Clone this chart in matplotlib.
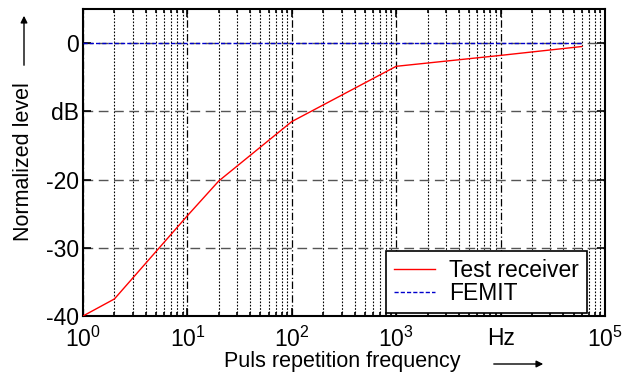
import numpy as np
import matplotlib
matplotlib.use("Agg")
import matplotlib.pyplot as plt
from matplotlib.ticker import FixedLocator, FixedFormatter, LogLocator, NullFormatter

plt.rcParams['font.family'] = ['Liberation Sans', 'DejaVu Sans']
plt.rcParams['mathtext.fontset'] = 'custom'
plt.rcParams['mathtext.rm'] = 'Liberation Sans'
plt.rcParams['mathtext.it'] = 'Liberation Sans'

# ── Data ──
freq_receiver = [1, 2, 10, 20, 100, 1000, 10000, 60000]
level_receiver = [-40, -37.5, -25.3, -20.2, -11.5, -3.4, -1.8, -0.5]
freq_femit = [1, 60000]
level_femit = [0, 0]

x_tick_pos = [1, 10, 100, 1000, 10000, 100000]
x_tick_lab = ['$\\mathrm{10^0}$', '$\\mathrm{10^1}$', '$\\mathrm{10^2}$',
              '$\\mathrm{10^3}$', 'Hz', '$\\mathrm{10^5}$']
y_tick_pos = [-40, -30, -20, -10, 0]
y_tick_lab = ['-40', '-30', '-20', 'dB', '0']

fig = plt.figure(figsize=(6.35, 3.76), dpi=100)
ax = fig.add_axes([83 / 635, 1 - 316 / 376, 522 / 635, 307 / 376])

ax.plot(freq_receiver, level_receiver, color='#ff0000', lw=1.0, label='Test receiver', zorder=3)
ax.plot(freq_femit, level_femit, color='#0000cc', lw=1.0, ls=(0, (3, 1.5)), label='FEMIT', zorder=3)

ax.set_xscale('log')
ax.set_xlim(1, 1e5)
ax.set_ylim(-40, 5)

ax.xaxis.set_major_locator(FixedLocator(x_tick_pos))
ax.xaxis.set_major_formatter(FixedFormatter(x_tick_lab))
ax.xaxis.set_minor_locator(LogLocator(base=10, subs=np.arange(2, 10), numticks=20))
ax.xaxis.set_minor_formatter(NullFormatter())
ax.yaxis.set_major_locator(FixedLocator(y_tick_pos))
ax.yaxis.set_major_formatter(FixedFormatter(y_tick_lab))

# ── Grid ──
ax.grid(True, which='minor', axis='x', color='black', ls=(0, (1.5, 1.5)), lw=0.8)
ax.grid(True, which='major', axis='x', color='black', ls=(0, (6, 2, 1, 2)), lw=0.9)
ax.grid(True, which='major', axis='y', color='#555555', ls=(0, (7, 4)), lw=1.0)

ax.tick_params(which='both', direction='in', top=True, right=True, labelsize=16.5, width=1.2)
ax.tick_params(which='major', length=6)
ax.tick_params(axis='y', which='major', pad=3)
ax.tick_params(axis='x', which='major', pad=8)
ax.tick_params(which='minor', length=3)
for s in ax.spines.values():
    s.set_linewidth(1.5)

leg = ax.legend(loc='lower right', bbox_to_anchor=(0.9655, 0.01), fontsize=16.5,
                frameon=True, fancybox=False, edgecolor='black', framealpha=1,
                borderpad=0.35, labelspacing=0.0, handlelength=1.8,
                handletextpad=0.6, borderaxespad=0)
leg.get_frame().set_linewidth(1.2)

# ── Axis labels with arrows ──
fig.text(24 / 635, 1 - 162 / 376, 'Normalized level', rotation=90, fontsize=15.5,
         ha='center', va='center')
fig.text(342 / 635, 1 - 362 / 376, 'Puls repetition frequency', fontsize=15.5,
         ha='center', va='center')
fig.patches.append(matplotlib.patches.FancyArrowPatch(
    (24 / 635, 1 - 68 / 376), (24 / 635, 1 - 13 / 376), transform=fig.transFigure,
    arrowstyle='-|>', mutation_scale=10, color='black', lw=1.0))
fig.patches.append(matplotlib.patches.FancyArrowPatch(
    (491 / 635, 1 - 364 / 376), (546 / 635, 1 - 364 / 376), transform=fig.transFigure,
    arrowstyle='-|>', mutation_scale=10, color='black', lw=1.0))

fig.savefig('out.png', dpi=100)
